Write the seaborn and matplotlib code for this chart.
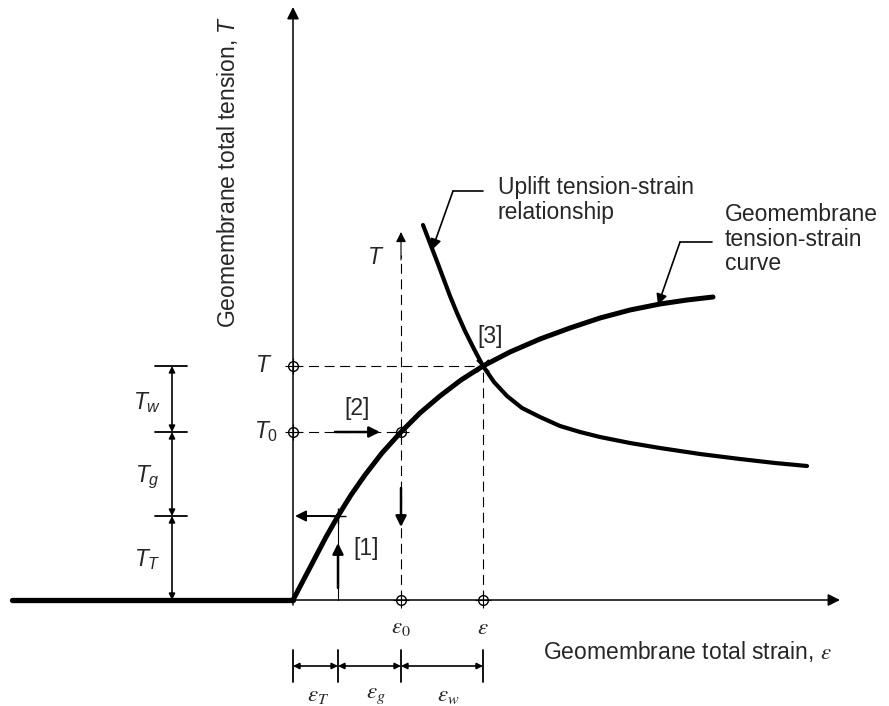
import numpy as np
import pandas as pd
import matplotlib
matplotlib.use("Agg")
import matplotlib.pyplot as plt
import seaborn as sns

# ---------------- data (schematic units: strain, tension) ----------------
strain_marks = [0.45, 1.08, 1.90]      # eps_T, eps_0, eps
tension_marks = [0.84, 1.68, 2.34]     # T_T, T_0, T

geo_strain = [0.0, 0.11, 0.22, 0.33, 0.45, 0.58, 0.72, 0.89, 1.08, 1.27, 1.47,
              1.68, 1.90, 2.17, 2.47, 2.77, 3.07, 3.37, 3.67, 3.94, 4.20]
geo_tension = [0.0, 0.21, 0.42, 0.63, 0.84, 1.05, 1.25, 1.47, 1.68, 1.87, 2.04,
               2.20, 2.34, 2.48, 2.61, 2.72, 2.82, 2.90, 2.96, 3.00, 3.03]

uplift_strain = [1.30, 1.35, 1.40, 1.45, 1.51, 1.57, 1.64, 1.72, 1.81, 1.90,
                 2.01, 2.14, 2.29, 2.47, 2.67, 2.87, 3.07, 3.37, 3.67, 4.07,
                 4.47, 4.82, 5.14]
uplift_tension = [3.75, 3.62, 3.49, 3.36, 3.20, 3.04, 2.87, 2.69, 2.51, 2.34,
                  2.18, 2.04, 1.92, 1.83, 1.74, 1.68, 1.63, 1.57, 1.52, 1.46,
                  1.41, 1.37, 1.34]

slack_strain = [-2.81, 0.0]
slack_tension = [0.0, 0.0]

x_label = "Geomembrane total strain, "
y_label = "Geomembrane total tension, "
uplift_label = "Uplift tension-strain\nrelationship"
geo_label = "Geomembrane\ntension-strain\ncurve"

# ---------------- figure ----------------
sns.set_theme(style="white")
plt.rcParams["font.family"] = ["Liberation Sans", "DejaVu Sans"]
plt.rcParams["mathtext.fontset"] = "custom"
plt.rcParams["mathtext.it"] = "Liberation Sans:italic"
plt.rcParams["mathtext.rm"] = "Liberation Sans"

fig = plt.figure(figsize=(8.89, 7.06), dpi=100)
ax = fig.add_axes([0, 0, 1, 1])
ax.set_xlim(-2.93, 5.96)
ax.set_ylim(-1.06, 6.00)
ax.axis("off")

K = "black"
eT, e0, e = strain_marks
TT, T0, T = tension_marks

# curves
df_geo = pd.DataFrame({"s": geo_strain, "t": geo_tension})
df_up = pd.DataFrame({"s": uplift_strain, "t": uplift_tension})
df_sl = pd.DataFrame({"s": slack_strain, "t": slack_tension})
sns.lineplot(data=df_geo, x="s", y="t", ax=ax, color=K, lw=3.6, sort=False,
             solid_capstyle="round", solid_joinstyle="round")
sns.lineplot(data=df_up, x="s", y="t", ax=ax, color=K, lw=3.0, sort=False,
             solid_capstyle="round", solid_joinstyle="round")
sns.lineplot(data=df_sl, x="s", y="t", ax=ax, color=K, lw=3.8, sort=False,
             solid_capstyle="round")
ax.set_xlabel("")
ax.set_ylabel("")


def arrow(tail, tip, lw=1.0, ms=14, style="-|>"):
    ax.annotate("", xy=tip, xytext=tail,
                arrowprops=dict(arrowstyle=style, color=K, lw=lw,
                                mutation_scale=ms, shrinkA=0, shrinkB=0))


# axes
arrow((0, 0), (5.47, 0), lw=1.1, ms=18)
arrow((0, -0.05), (0, 5.93), lw=1.1, ms=18)

# dashed guides
dash = dict(color=K, lw=0.8, ls=(0, (9, 5)))
ax.plot([0, e], [T, T], **dash)
ax.plot([0, e0], [T0, T0], **dash)
ax.plot([e0, e0], [0, 3.45], **dash)
ax.plot([e, e], [0, T], **dash)
arrow((e0, 3.40), (e0, 3.68), lw=0.8, ms=15)
arrow((e0, 1.12), (e0, 0.73), lw=1.8, ms=16)

# step arrows
arrow((0.42, T0), (0.87, T0), lw=1.8, ms=16)          # [2]
ax.plot([eT, eT], [0, TT], color=K, lw=0.8)
arrow((eT, 0.12), (eT, 0.57), lw=1.8, ms=16)          # [1]
arrow((eT, TT), (0.02, TT), lw=1.4, ms=16)

# circle markers
for (px, py) in [(0, T), (0, T0), (e0, T0), (e0, 0), (e, 0)]:
    ax.plot([px], [py], marker="o", ms=7, mfc="none", mec=K, mew=1.0)
    ax.plot([px], [py], marker="+", ms=11, mec=K, mew=0.8)
ax.plot([eT], [TT], marker="+", ms=11, mec=K, mew=1.0)
ax.plot([e], [T], marker="x", ms=9, mec=K, mew=1.5)

# left dimension (tension)
xd = -1.21
for yv in tension_marks:
    ax.plot([-1.38, -1.06], [yv, yv], color=K, lw=1.3)
bounds = [0, TT, T0, T]
for a, b in zip(bounds[:-1], bounds[1:]):
    arrow((xd, a), (xd, b), lw=1.2, ms=9, style="<|-|>")

# bottom dimension (strain)
yd = -0.66
xb = [0] + strain_marks
for xv in xb:
    ax.plot([xv, xv], [-0.50, -0.82], color=K, lw=1.3)
for a, b in zip(xb[:-1], xb[1:]):
    arrow((a, yd), (b, yd), lw=1.2, ms=9, style="<|-|>")

fs = 16.5
# labels
ax.text(-0.21, T, r"$T$", fontsize=fs, ha="right", va="center")
ax.text(-0.15, T0, r"$T_0$", fontsize=fs, ha="right", va="center")
ax.text(-1.46, 1.97, r"$T_w$", fontsize=fs, ha="center", va="center")
ax.text(-1.46, 1.23, r"$T_g$", fontsize=fs, ha="center", va="center")
ax.text(-1.46, 0.40, r"$T_T$", fontsize=fs, ha="center", va="center")
ax.text(0.83, 3.43, r"$T$", fontsize=fs, ha="center", va="center")
ax.text(0.73, 0.51, "[1]", fontsize=fs, ha="center", va="center")
ax.text(0.64, 1.91, "[2]", fontsize=fs, ha="center", va="center")
ax.text(1.97, 2.64, "[3]", fontsize=fs, ha="center", va="center")

ax.text(e0, -0.27, r"$\varepsilon_0$", fontsize=fs, ha="center", va="center",
        math_fontfamily="stix")
ax.text(e, -0.27, r"$\varepsilon$", fontsize=fs, ha="center", va="center",
        math_fontfamily="stix")
ax.text(0.25, -0.95, r"$\varepsilon_T$", fontsize=fs, ha="center", va="center",
        math_fontfamily="stix")
ax.text(0.83, -0.95, r"$\varepsilon_g$", fontsize=fs, ha="center", va="center",
        math_fontfamily="stix")
ax.text(1.55, -0.95, r"$\varepsilon_w$", fontsize=fs, ha="center", va="center",
        math_fontfamily="stix")

ax.text(2.50, -0.52, x_label + r"$\varepsilon$", fontsize=fs, ha="left",
        va="center", math_fontfamily="stix")
ax.text(-0.65, 4.28, y_label + r"$T$", fontsize=fs, ha="center", va="center",
        rotation=90)

ax.text(2.05, 4.00, uplift_label, fontsize=fs, ha="left", va="center",
        linespacing=1.1)
ax.text(4.32, 3.61, geo_label, fontsize=fs, ha="left", va="center",
        linespacing=1.1)

# leaders
up_leader = [(1.90, 4.09), (1.60, 4.09), (1.39, 3.50)]
geo_leader = [(4.19, 3.58), (3.87, 3.58), (3.65, 2.95)]
for ld in (up_leader, geo_leader):
    ax.plot([ld[0][0], ld[1][0]], [ld[0][1], ld[1][1]], color=K, lw=1.2)
    arrow(ld[1], ld[2], lw=1.2, ms=16)

fig.savefig("out.png", dpi=100)
